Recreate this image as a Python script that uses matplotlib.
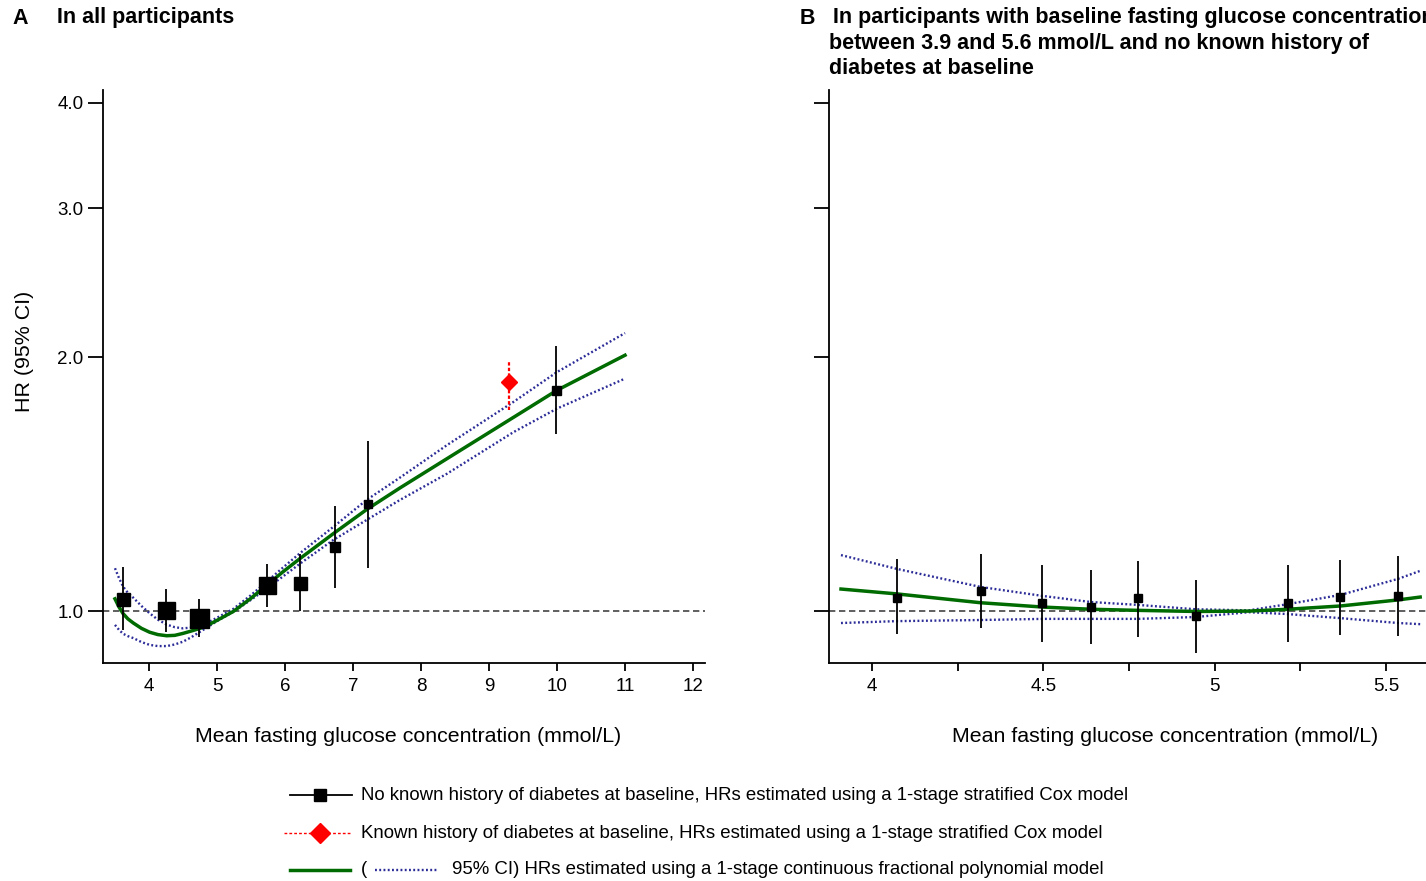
import matplotlib
matplotlib.use("Agg")
import matplotlib.pyplot as plt
from matplotlib.lines import Line2D
from matplotlib.ticker import FixedLocator, NullLocator, FixedFormatter

plt.rcParams['font.family'] = ['Liberation Sans', 'DejaVu Sans']

# ---- panel A: all participants ----
# no known diabetes at baseline (1-stage stratified Cox), HR with 95% CI
a_x = [3.62, 4.25, 4.73, 5.73, 6.22, 6.73, 7.22, 9.99]
a_hr = [1.035, 1.004, 0.983, 1.075, 1.080, 1.192, 1.340, 1.826]
a_lo = [0.952, 0.946, 0.933, 1.013, 1.000, 1.067, 1.125, 1.620]
a_hi = [1.129, 1.064, 1.035, 1.139, 1.169, 1.332, 1.590, 2.060]
a_size = [13, 17, 19, 17, 13, 10, 8, 9]   # square width in px (weight)

# known diabetes at baseline
dm_x = [9.29]
dm_hr = [1.87]
dm_lo = [1.73]
dm_hi = [1.98]

# continuous fractional polynomial fit and 95% CI
fpA_x = [3.50, 3.56, 3.62, 3.69, 3.77, 3.89, 4.01, 4.13, 4.26, 4.38, 4.50, 4.62,
         4.75, 4.87, 4.99, 5.24, 5.49, 5.73, 5.97, 6.22, 6.71, 7.20, 7.69, 8.38,
         9.36, 10.0, 11.0]
fpA_hr = [1.035, 1.012, 0.994, 0.980, 0.969, 0.955, 0.945, 0.939, 0.936, 0.937,
          0.942, 0.948, 0.955, 0.964, 0.975, 1.000, 1.035, 1.074, 1.114, 1.155,
          1.236, 1.320, 1.400, 1.516, 1.697, 1.827, 2.010]
fpA_hi = [1.125, 1.095, 1.070, 1.052, 1.038, 1.015, 0.995, 0.978, 0.965, 0.958,
          0.955, 0.957, 0.962, 0.971, 0.982, 1.007, 1.044, 1.084, 1.127, 1.172,
          1.259, 1.355, 1.440, 1.573, 1.770, 1.920, 2.135]
fpA_lo = [0.964, 0.951, 0.941, 0.935, 0.930, 0.920, 0.913, 0.910, 0.910, 0.914,
          0.921, 0.932, 0.946, 0.959, 0.973, 0.999, 1.031, 1.064, 1.100, 1.139,
          1.215, 1.283, 1.355, 1.455, 1.630, 1.738, 1.886]

# ---- panel B: baseline glucose 3.9-5.6 mmol/L, no known diabetes ----
b_x = [4.073, 4.318, 4.496, 4.640, 4.777, 4.945, 5.213, 5.367, 5.536]
b_hr = [1.038, 1.057, 1.023, 1.012, 1.037, 0.988, 1.023, 1.040, 1.043]
b_lo = [0.941, 0.956, 0.920, 0.915, 0.933, 0.893, 0.920, 0.938, 0.936]
b_hi = [1.154, 1.169, 1.135, 1.120, 1.147, 1.090, 1.135, 1.151, 1.163]

fpB_x = [3.91, 4.073, 4.318, 4.50, 4.64, 4.777, 4.945, 5.10, 5.213, 5.367, 5.536, 5.60]
fpB_hr = [1.063, 1.049, 1.024, 1.012, 1.006, 1.003, 1.000, 1.001, 1.006, 1.015, 1.032, 1.040]
fpB_hi = [1.166, 1.123, 1.069, 1.043, 1.026, 1.018, 1.006, 1.003, 1.020, 1.046, 1.093, 1.117]
fpB_lo = [0.969, 0.974, 0.977, 0.980, 0.980, 0.980, 0.985, 0.998, 0.993, 0.982, 0.969, 0.966]

y_ticks = [1.0, 2.0, 3.0, 4.0]
y_labels = ['1.0', '2.0', '3.0', '4.0']
xa_ticks = [4, 5, 6, 7, 8, 9, 10, 11, 12]
xb_ticks = [4, 4.25, 4.5, 4.75, 5, 5.25, 5.5]
xb_labels = ['4', '', '4.5', '', '5', '', '5.5']

GREEN = '#006b00'
BLUE = '#2c2c98'
W, H = 1426, 881

fig = plt.figure(figsize=(W / 100, H / 100), dpi=100)


def fx(px):
    return px / W


def fy(py):
    return 1 - py / H


axA = fig.add_axes([fx(103), fy(663), fx(705) - fx(103), fy(90) - fy(663)])
axB = fig.add_axes([fx(829), fy(663), fx(1426) - fx(829), fy(90) - fy(663)])


def style(ax, xlim):
    ax.set_yscale('log')
    ax.set_ylim(0.869, 4.14)
    ax.set_xlim(*xlim)
    for s in ['top', 'right']:
        ax.spines[s].set_visible(False)
    for s in ['left', 'bottom']:
        ax.spines[s].set_linewidth(1.3)
    ax.yaxis.set_major_locator(FixedLocator(y_ticks))
    ax.yaxis.set_minor_locator(NullLocator())
    ax.tick_params(axis='y', length=11, width=1.3, labelsize=13.5, pad=3)
    ax.tick_params(axis='x', length=6, width=1.3, labelsize=13.5, pad=5)
    ax.axhline(1.0, color='#444444', lw=1.2, ls=(0, (3.8, 2.2)), zorder=1)


style(axA, (3.324, 12.176))
style(axB, (3.875, 5.617))

axA.yaxis.set_major_formatter(FixedFormatter(y_labels))
axA.set_xticks(xa_ticks)
axB.yaxis.set_major_formatter(FixedFormatter(['', '', '', '']))
axB.set_xticks(xb_ticks)
axB.set_xticklabels(xb_labels)

dotted = (0, (0.8, 1.0))

# panel A
axA.plot(fpA_x, fpA_hi, color=BLUE, lw=1.7, ls=dotted, zorder=3)
axA.plot(fpA_x, fpA_lo, color=BLUE, lw=1.7, ls=dotted, zorder=3)
axA.plot(fpA_x, fpA_hr, color=GREEN, lw=2.5, zorder=4)
axA.vlines(a_x, a_lo, a_hi, color='black', lw=1.3, zorder=5)
for x, hr, s in zip(a_x, a_hr, a_size):
    axA.plot([x], [hr], marker='s', ms=s * 0.72, color='black', ls='none', zorder=6)
axA.vlines(dm_x, dm_lo, dm_hi, color='red', lw=1.6, linestyles=(0, (1.5, 1)), zorder=5)
axA.plot(dm_x, dm_hr, marker='D', ms=8.5, color='red', ls='none', zorder=6)

# panel B
axB.plot(fpB_x, fpB_hi, color=BLUE, lw=1.7, ls=dotted, zorder=3)
axB.plot(fpB_x, fpB_lo, color=BLUE, lw=1.7, ls=dotted, zorder=3)
axB.plot(fpB_x, fpB_hr, color=GREEN, lw=2.5, zorder=4)
axB.vlines(b_x, b_lo, b_hi, color='black', lw=1.3, zorder=5)
axB.plot(b_x, b_hr, marker='s', ms=6, color='black', ls='none', zorder=6)

# titles and axis labels (panel B's first title line runs off the right edge)
tkw = dict(fontsize=15.5, fontweight='bold', va='center')
fig.text(fx(12), fy(18), 'A', **tkw)
fig.text(fx(57), fy(18), 'In all participants', **tkw)
fig.text(fx(800), fy(18), 'B', **tkw)
fig.text(fx(833), fy(18), 'In participants with baseline fasting glucose concentration', **tkw)
fig.text(fx(829), fy(43), 'between 3.9 and 5.6 mmol/L and no known history of', **tkw)
fig.text(fx(829), fy(68), 'diabetes at baseline', **tkw)

lkw = dict(fontsize=15.4, ha='center', va='center')
fig.text(fx(408), fy(737), 'Mean fasting glucose concentration (mmol/L)', **lkw)
fig.text(fx(1165), fy(737), 'Mean fasting glucose concentration (mmol/L)', **lkw)
fig.text(fx(25), fy(351), 'HR (95% CI)', rotation=90, **lkw)

# legend drawn in pixel space
lg = fig.add_axes([0, 0, 1, 1], zorder=-1)
lg.set_xlim(0, W)
lg.set_ylim(H, 0)
lg.axis('off')
lg.add_line(Line2D([290, 352], [795, 795], color='black', lw=1.3))
lg.add_line(Line2D([320], [795], marker='s', ms=9, color='black'))
lg.add_line(Line2D([284, 352], [833, 833], color='red', lw=1, ls=(0, (2, 1.5))))
lg.add_line(Line2D([320], [833], marker='D', ms=10, color='red'))
lg.add_line(Line2D([290, 350], [870, 870], color=GREEN, lw=2.5))
lg.add_line(Line2D([375, 438], [870, 870], color=BLUE, lw=1.7, ls=dotted))
legkw = dict(fontsize=13.4, va='center')
lg.text(361, 795, 'No known history of diabetes at baseline, HRs estimated using a 1-stage stratified Cox model', **legkw)
lg.text(361, 833, 'Known history of diabetes at baseline, HRs estimated using a 1-stage stratified Cox model', **legkw)
lg.text(361, 870, '(', **legkw)
lg.text(452, 870, '95% CI) HRs estimated using a 1-stage continuous fractional polynomial model', **legkw)

fig.savefig('out.png', dpi=100)
